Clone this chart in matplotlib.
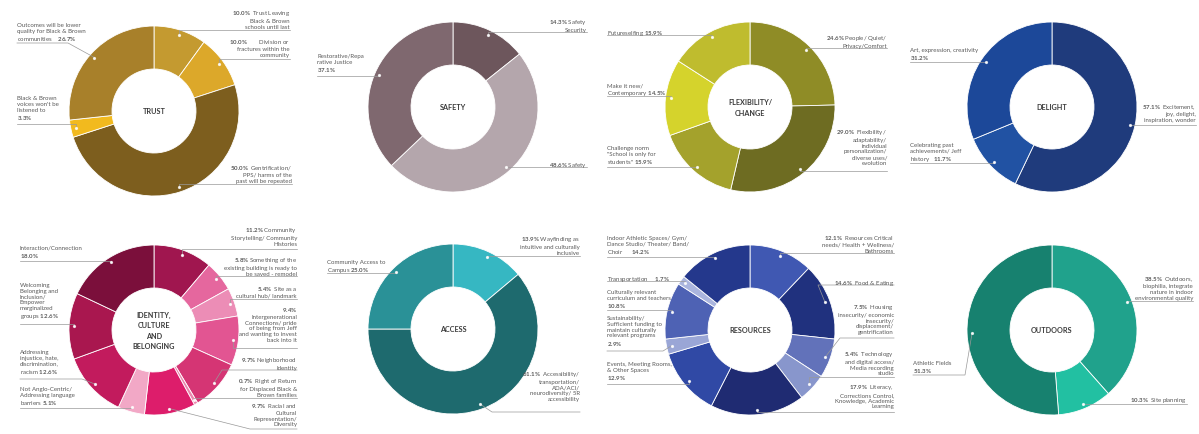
import numpy as np
import matplotlib.pyplot as plt

plt.rcParams['font.family'] = ['Lato', 'DejaVu Sans']
plt.rcParams['mathtext.fontset'] = 'custom'
plt.rcParams['mathtext.rm'] = 'Lato'
plt.rcParams['mathtext.bf'] = 'Lato:bold'

W, H = 1199, 435

# ---- data ----
trust_values = [10.0, 10.0, 50.0, 3.3, 26.7]
trust_labels = ["{p}  Trust Leaving\nBlack & Brown\nschools until last",
                "{p}        Division or\nfractures within the\ncommunity",
                "{p}  Gentrification/\nPPS/ harms of the\npast will be repeated",
                "Black & Brown\nvoices won't be\nlistened to\n{p}",
                "Outcomes will be lower\nquality for Black & Brown\ncommunities    {p}"]
trust_colors = ['#C49A30', '#DCA82A', '#7D5E1E', '#F2BA1E', '#A8802A']

safety_values = [14.3, 48.6, 37.1]
safety_labels = ["{p} Safety\nSecurity",
                 "{p} Safety",
                 "Restorative/Repa\nrative Justice\n{p}"]
safety_colors = ['#6D565C', '#B4A6AC', '#7F686F']

flex_values = [24.6, 29.0, 15.9, 14.5, 15.9]
flex_labels = ["{p} People/ Quiet/\nPrivacy/Comfort",
               "{p}  Flexibility/\nadaptability/\nindividual\npersonalization/\ndiverse uses/\nevolution",
               "Challenge norm\n\"School is only for\nstudents\" {p}",
               "Make it new/\nContemporary {p}",
               "Futureselfing {p}"]
flex_colors = ['#8F8C26', '#6E6C22', '#A4A22C', '#D5D32C', '#BFBC2E']

delight_values = [57.1, 11.7, 31.2]
delight_labels = ["{p}  Excitement,\njoy, delight,\ninspiration, wonder",
                  "Celebrating past\nachievements/ Jeff\nhistory   {p}",
                  "Art, expression, creativity\n{p}"]
delight_colors = ['#1F3B7C', '#2152A3', '#1C4899']

identity_values = [11.2, 5.8, 5.4, 9.4, 9.7, 0.7, 9.7, 5.1, 12.6, 12.6, 18.0]
identity_labels = ["{p} Community\nStorytelling/ Community\nHistories",
                   "{p} Something of the\nexisting building is ready to\nbe saved - remodel",
                   "{p}  Site as a\ncultural hub/ landmark",
                   "{p}\nIntergenerational\nConnections/ pride\nof being from Jeff\nand wanting to invest\nback into it",
                   "{p} Neighborhood\nIdentity",
                   "{p}  Right of Return\nfor Displaced Black &\nBrown families",
                   "{p}  Racial and\nCultural\nRepresentation/\nDiversity",
                   "Not Anglo-Centric/\nAddressing language\nbarriers {p}",
                   "Addressing\ninjustice, hate,\ndiscrimination,\nracism {p}",
                   "Welcoming\nBelonging and\nInclusion/\nEmpower\nmarginalized\ngroups {p}",
                   "Interaction/Connection\n{p}"]
identity_colors = ['#A0164F', '#E5679E', '#EC8DB6', '#E25592', '#D53574', '#EA86AE',
                   '#DD1D6B', '#F2A8C6', '#C21B5D', '#A9174F', '#7B0F3B']

access_values = [13.9, 61.1, 25.0]
access_labels = ["{p} Wayfinding as\nintuitive and culturally\ninclusive",
                 "{p}  Accessibility/\ntransportation/\nADA/ACI/\nneurodiversity/ 5R\naccessibility",
                 "Community Access to\nCampus {p}"]
access_colors = ['#36B7C2', '#1E6A6E', '#2A9197']

resources_values = [12.1, 14.6, 7.5, 5.4, 17.9, 12.9, 2.9, 10.8, 1.7, 14.2]
resources_labels = ["{p}  Resources Critical\nneeds/ Health + Wellness/\nBathrooms",
                    "{p}  Food & Eating",
                    "{p}  Housing\ninsecurity/ economic\ninsecurity/\ndisplacement/\ngentrification",
                    "{p}  Technology\nand digital access/\nMedia recording\nstudio",
                    "{p}  Literacy,\nCorrections Control,\nKnowledge, Academic\nLearning",
                    "Events, Meeting Rooms,\n& Other Spaces\n{p}",
                    "Sustainability/\nSufficient funding to\nmaintain culturally\nrelevant programs\n{p}",
                    "Culturally relevant\ncurriculum and teachers\n{p}",
                    "Transportation     {p}",
                    "Indoor Athletic Spaces/ Gym/\nDance Studio/ Theater/ Band/\nChoir      {p}"]
resources_colors = ['#4058B2', '#20317E', '#6272BA', '#8896CC', '#1F2B72',
                    '#3049A5', '#9AA6D6', '#4E62B4', '#AAB5DE', '#24388C']

outdoors_values = [38.5, 10.3, 51.3]
outdoors_labels = ["{p}  Outdoors,\nbiophilia, integrate\nnature in indoor\nenvironmental quality",
                   "{p}  Site planning",
                   "Athletic Fields\n{p}"]
outdoors_colors = ['#20A28C', '#22C0A2', '#17816F']

# ---- layout (pixel coords): centre, title, per-label (x, first line y, ha, underline y, knee x) ----
charts = [
    ((154, 112), "TRUST", trust_values, trust_labels, trust_colors,
     [(290, 13, 'right', 31, None), (290, 42, 'right', 60, None), (292, 168, 'right', 185, None),
      (17, 100, 'left', 125, None), (17, 27, 'left', 44, 68)]),
    ((453, 108), "SAFETY", safety_values, safety_labels, safety_colors,
     [(587, 22, 'right', 33, None), (587, 165, 'right', 168, None), (317, 58, 'left', 77, None)]),
    ((750, 108), "FLEXIBILITY/\nCHANGE", flex_values, flex_labels, flex_colors,
     [(887, 38, 'right', 49, None), (887, 132, 'right', 172, None), (607, 150, 'left', 168, None),
      (607, 87, 'left', 97, None), (607, 33, 'left', 36, None)]),
    ((1052, 108), "DELIGHT", delight_values, delight_labels, delight_colors,
     [(1196, 107, 'right', 126, None), (910, 147, 'left', 164, None), (910, 52, 'left', 63, None)]),
    ((154, 331), "IDENTITY,\nCULTURE\nAND\nBELONGING", identity_values, identity_labels, identity_colors,
     [(297, 230, 'right', 250, None), (297, 260, 'right', 277, None), (297, 289, 'right', 300, None),
      (297, 310, 'right', 349, None), (297, 360, 'right', 371, 222), (297, 381, 'right', 399, None),
      (297, 406, 'right', 430, 250), (20, 391, 'left', 409, None), (20, 354, 'left', 380, 82),
      (20, 287, 'left', 325, None), (20, 250, 'left', 262, None)]),
    ((453, 330), "ACCESS", access_values, access_labels, access_colors,
     [(580, 239, 'right', 257, None), (580, 374, 'right', 413, 492), (327, 264, 'left', 274, None)]),
    ((750, 331), "RESOURCES", resources_values, resources_labels, resources_colors,
     [(894, 238, 'right', 254, None), (894, 283, 'right', 286, 818), (894, 307, 'right', 339, 840),
      (894, 354, 'right', 378, None), (894, 387, 'right', 413, None), (607, 366, 'left', 385, None),
      (607, 320, 'left', 352, 663), (607, 294, 'left', 311, None), (607, 279, 'left', 282, None),
      (607, 240, 'left', 258, None)]),
    ((1052, 331), "OUTDOORS", outdoors_values, outdoors_labels, outdoors_colors,
     [(1193, 279, 'right', 302, None), (1187, 400, 'right', 405, None), (913, 365, 'left', 376, 965)]),
]

R, RI, RDOT = 85, 42, 80

fig = plt.figure(figsize=(W / 100, H / 100), dpi=100)
ax = fig.add_axes([0, 0, 1, 1])

for (cx, cy), title, values, labels, colors, layout in charts:
    cyu = H - cy
    vals = np.array(values)
    ax.pie(vals, colors=colors, startangle=90, counterclock=False, center=(cx, cyu), radius=R,
           wedgeprops=dict(width=R - RI, edgecolor='white', linewidth=0.6))
    ax.text(cx, cyu, title, ha='center', va='center', fontsize=5.2, fontweight='bold',
            color='#3a3a3a', linespacing=1.6)
    mids = (np.cumsum(vals) - vals / 2) / vals.sum() * 2 * np.pi
    for v, lab, ang, (tx, ty, ha, uy, kx) in zip(vals, labels, mids, layout):
        p = r"$\mathbf{%.1f\%%}$" % v
        ax.text(tx, H - ty + 4, lab.format(p=p), ha=ha, va='top', multialignment=ha,
                fontsize=4.4, color='#5a5a5a', linespacing=1.2)
        dx = cx + RDOT * np.sin(ang)
        dy = cyu + RDOT * np.cos(ang)
        knee = dx if kx is None else kx
        ax.plot([tx, knee, dx], [H - uy, H - uy, dy], color='#999999', lw=0.5)
        ax.plot(dx, dy, 'o', ms=1.3, color='white', alpha=0.8)

ax.set_xlim(0, W)
ax.set_ylim(0, H)
ax.set_aspect('auto')
ax.axis('off')
fig.savefig('out.png', dpi=100)
